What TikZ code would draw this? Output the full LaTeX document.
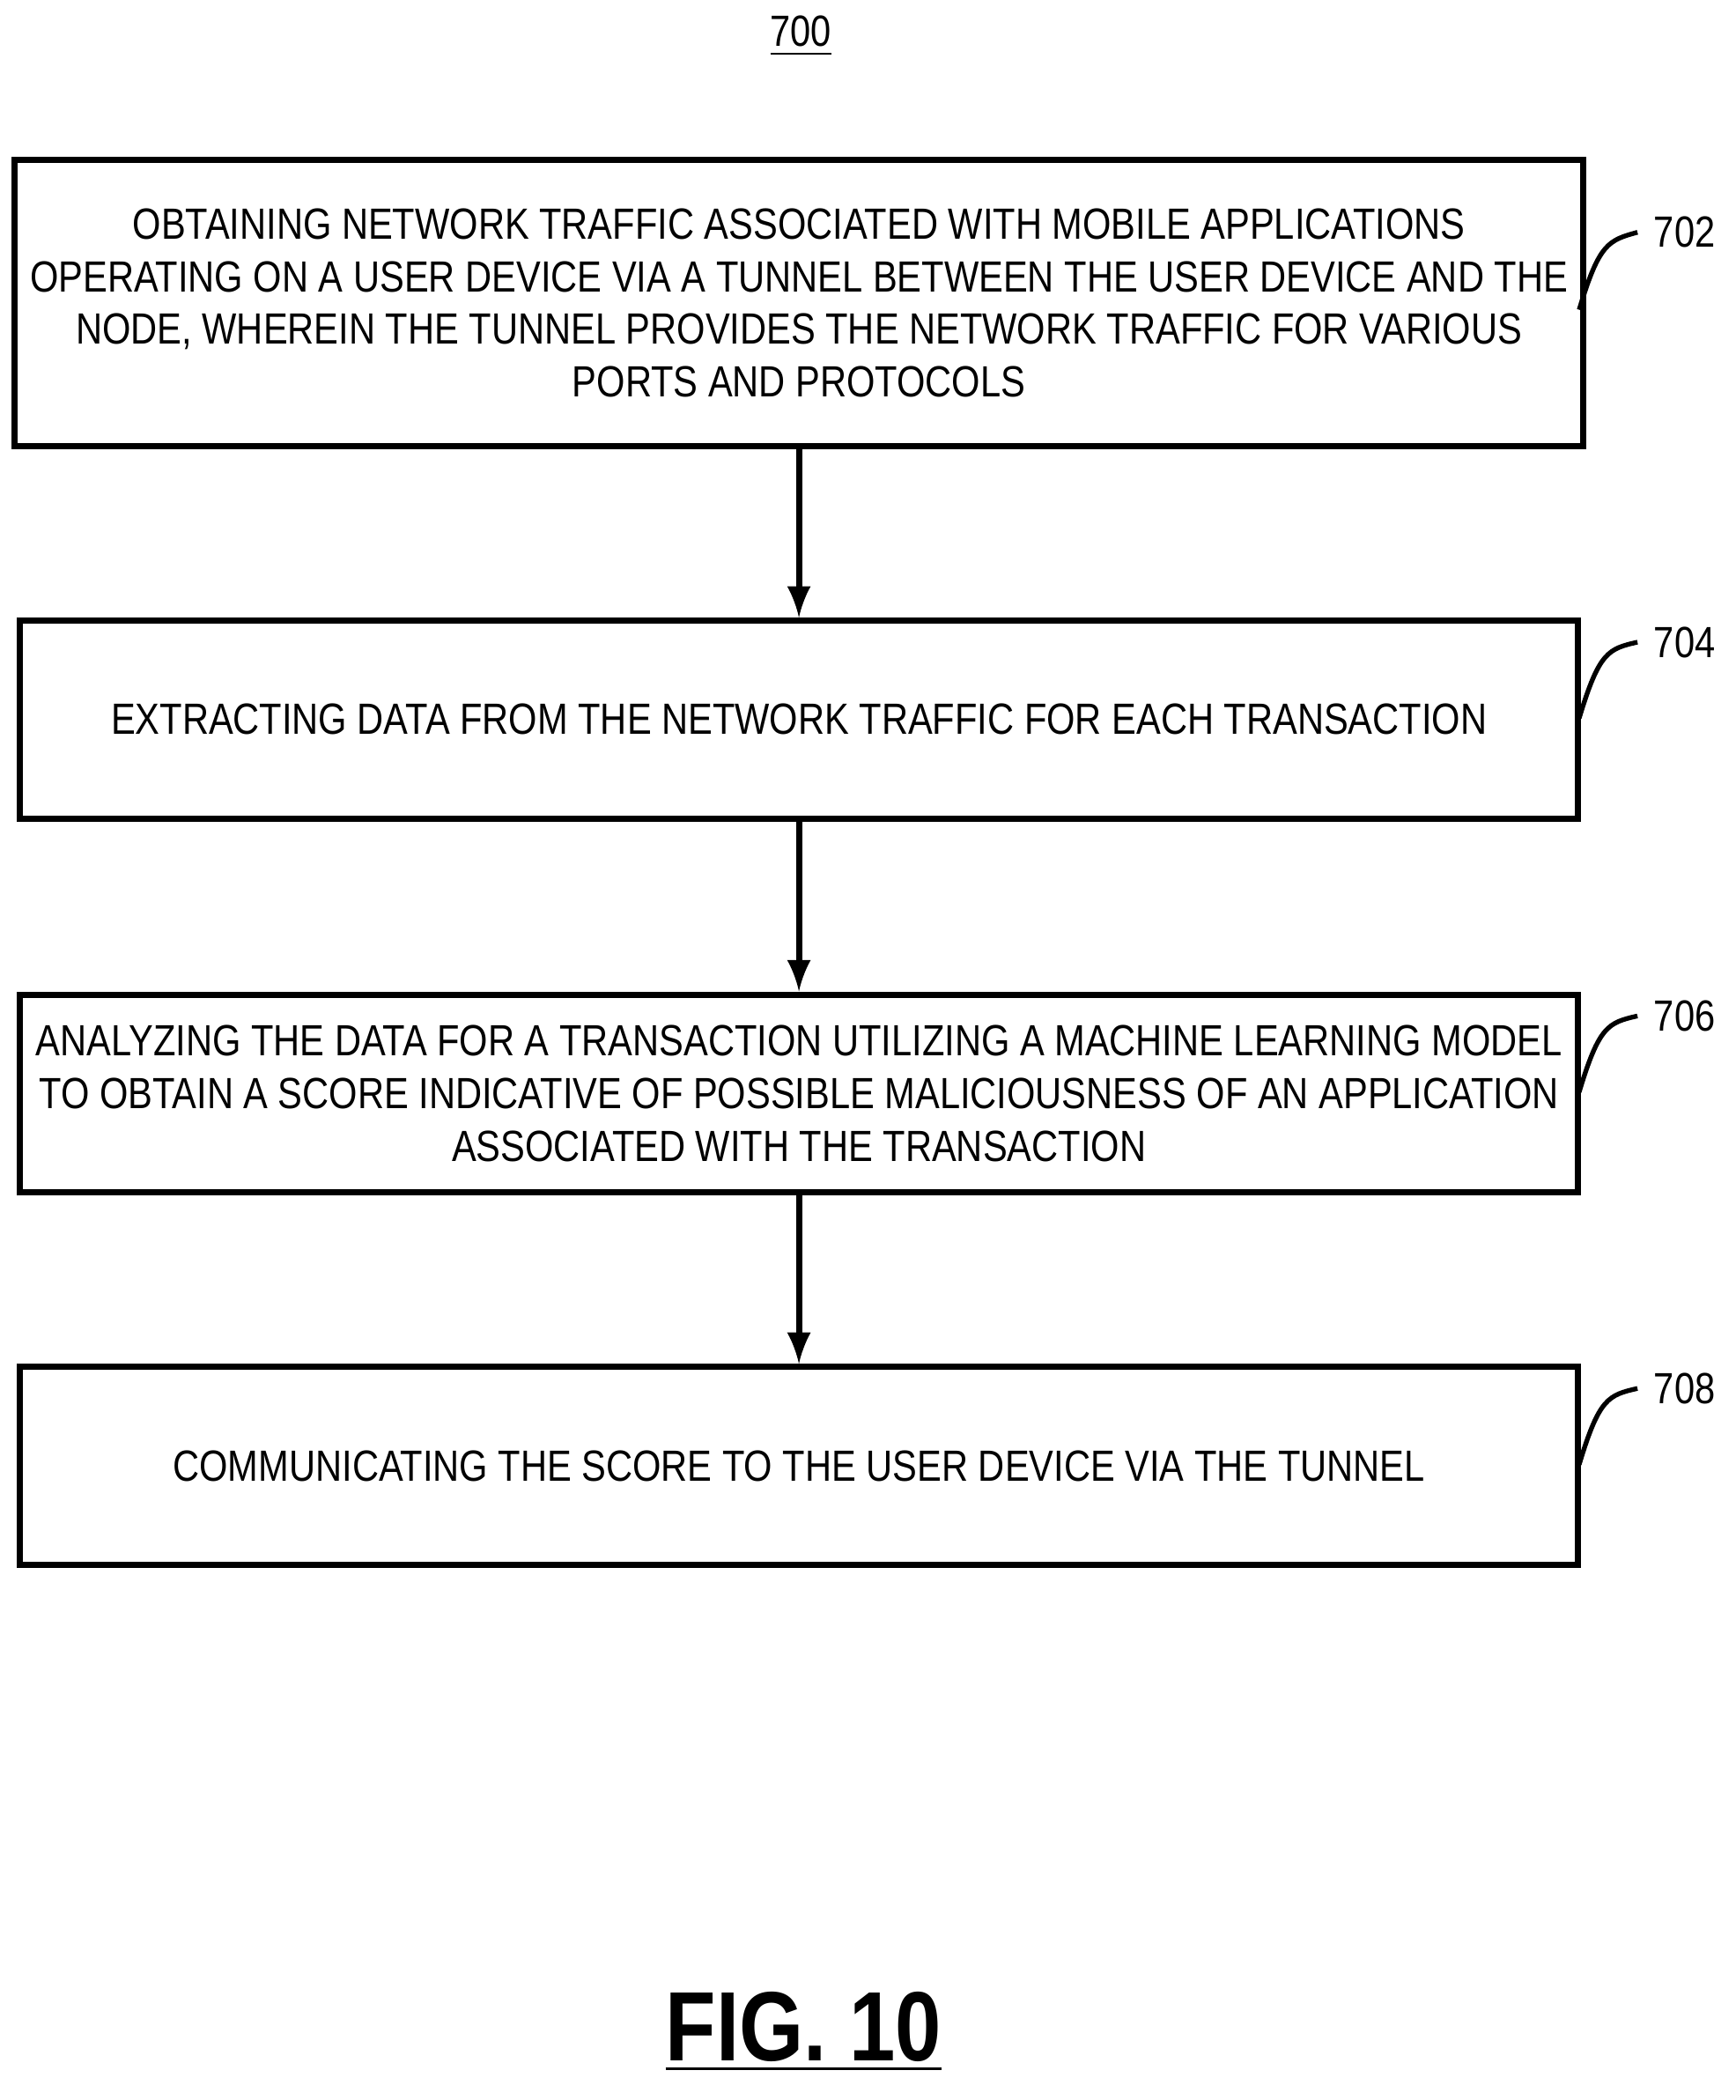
\documentclass[tikz,border=0pt]{standalone}
\usepackage{fontspec}
\setmainfont{Liberation Sans}[FakeStretch=0.84]
\usetikzlibrary{arrows,positioning}
\tikzset{
  flowstep/.style = {draw, line width=1.3pt, rectangle, minimum width=11.67cm,
                  align=center, font=\fontsize{9.3pt}{11.2pt}\selectfont},
  ref/.style   = {font=\fontsize{9.3pt}{11pt}\selectfont},
  lead/.style  = {line width=1pt},
}

\begin{document}
\begin{tikzpicture}[x=0.01cm, y=-0.01cm, >=latex]
\useasboundingbox (0,0) rectangle (1300,1573);

% title
\node[ref] (title) at (600,27) {\underline{700}};

% steps
\node[flowstep, minimum height=2.14cm] (s1) at (598.5,227) {OBTAINING NETWORK TRAFFIC ASSOCIATED WITH MOBILE APPLICATIONS\\
OPERATING ON A USER DEVICE VIA A TUNNEL BETWEEN THE USER DEVICE AND THE\\
NODE, WHEREIN THE TUNNEL PROVIDES THE NETWORK TRAFFIC FOR VARIOUS\\
PORTS AND PROTOCOLS};
\node[flowstep, minimum height=1.48cm] (s2) at (598.5,539) {EXTRACTING DATA FROM THE NETWORK TRAFFIC FOR EACH TRANSACTION};
\node[flowstep, minimum height=1.48cm] (s3) at (598.5,819) {ANALYZING THE DATA FOR A TRANSACTION UTILIZING A MACHINE LEARNING MODEL\\
TO OBTAIN A SCORE INDICATIVE OF POSSIBLE MALICIOUSNESS OF AN APPLICATION\\
ASSOCIATED WITH THE TRANSACTION};
\node[flowstep, minimum height=1.48cm] (s4) at (598.5,1098) {COMMUNICATING THE SCORE TO THE USER DEVICE VIA THE TUNNEL};

% reference numerals
\node[ref] (r1) at (1262,174) {702};
\node[ref] (r2) at (1262,481) {704};
\node[ref] (r3) at (1262,761) {706};
\node[ref] (r4) at (1262,1040) {708};

\foreach \i/\y in {1/232,2/538,3/818,4/1097}
  \draw[lead] (1183,\y) coordinate (e\i) .. controls (1198,\y-50) and (1205,\y-52) .. (r\i.west);

\foreach \a/\b in {s1/s2,s2/s3,s3/s4}
  \draw[->, line width=1.3pt] (\a) -- (\b);

\node[font=\bfseries\fontsize{21pt}{24pt}\selectfont] (fig) at (602,1522) {\underline{FIG. 10}};
\end{tikzpicture}
\end{document}
